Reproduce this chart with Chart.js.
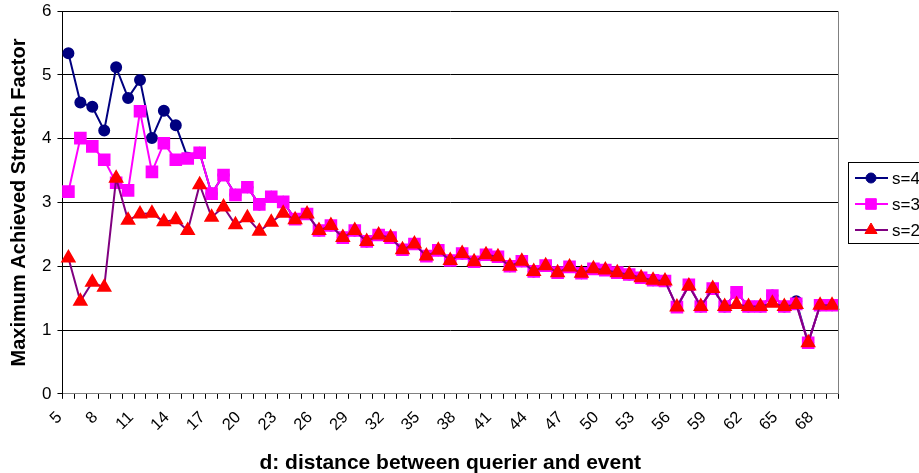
<!DOCTYPE html>
<html>
<head>
<meta charset="utf-8">
<script src="https://cdn.jsdelivr.net/npm/chart.js@4/dist/chart.umd.min.js"></script>
<style>
  body { margin: 0; background: #fff; overflow: hidden; }
  canvas { display: block; margin-top: -5px; }
</style>
</head>
<body>
<canvas id="stretchChart" width="919" height="478"></canvas>
<script>
// x categories: distance d
var distances = [5, 6, 7, 8, 9, 10, 11, 12, 13, 14, 15, 16, 17, 18, 19, 20, 21, 22, 23, 24,
  25, 26, 27, 28, 29, 30, 31, 32, 33, 34, 35, 36, 37, 38, 39, 40, 41, 42, 43, 44,
  45, 46, 47, 48, 49, 50, 51, 52, 53, 54, 55, 56, 57, 58, 59, 60, 61, 62, 63, 64,
  65, 66, 67, 68, 69];

var s4Values = [5.34, 4.57, 4.50, 4.13, 5.12, 4.64, 4.92, 4.01, 4.44, 4.21, 3.70, 3.78, 3.14, 3.43, 3.12, 3.24, 2.97, 3.09, 3.01, 2.74,
  2.82, 2.56, 2.64, 2.45, 2.56, 2.39, 2.49, 2.45, 2.26, 2.35, 2.16, 2.25, 2.09, 2.20, 2.07, 2.18, 2.15, 2.00, 2.08, 1.92,
  2.01, 1.90, 1.99, 1.89, 1.96, 1.94, 1.90, 1.87, 1.82, 1.78, 1.77, 1.36, 1.71, 1.37, 1.65, 1.37, 1.59, 1.37, 1.37, 1.54,
  1.37, 1.45, 0.80, 1.39, 1.39];

var s3Values = [3.17, 4.01, 3.88, 3.67, 3.31, 3.19, 4.43, 3.48, 3.93, 3.67, 3.69, 3.78, 3.14, 3.43, 3.12, 3.24, 2.97, 3.09, 3.01, 2.74,
  2.82, 2.56, 2.64, 2.45, 2.56, 2.39, 2.49, 2.45, 2.26, 2.35, 2.16, 2.25, 2.09, 2.20, 2.07, 2.18, 2.15, 2.00, 2.08, 1.92,
  2.01, 1.90, 1.99, 1.89, 1.96, 1.94, 1.90, 1.87, 1.82, 1.78, 1.77, 1.36, 1.71, 1.37, 1.65, 1.37, 1.59, 1.37, 1.37, 1.54,
  1.37, 1.41, 0.80, 1.39, 1.39];

var s2Values = [2.13, 1.45, 1.75, 1.67, 3.38, 2.72, 2.82, 2.83, 2.70, 2.73, 2.56, 3.28, 2.77, 2.93, 2.65, 2.76, 2.55, 2.69, 2.83, 2.73,
  2.82, 2.56, 2.64, 2.45, 2.56, 2.39, 2.49, 2.45, 2.26, 2.35, 2.16, 2.25, 2.09, 2.20, 2.07, 2.18, 2.15, 2.00, 2.08, 1.92,
  2.01, 1.90, 1.99, 1.89, 1.96, 1.94, 1.90, 1.87, 1.82, 1.78, 1.77, 1.36, 1.69, 1.37, 1.65, 1.37, 1.40, 1.37, 1.37, 1.42,
  1.37, 1.40, 0.80, 1.39, 1.39];

var seriesNames = ['s=4', 's=3', 's=2'];
var yTicks = [0, 1, 2, 3, 4, 5, 6];

var FONT = '"Liberation Sans", Arial, sans-serif';
var SHIFT = 5; // canvas is pulled up by this much

// legend box with line + marker, like the excel one
var boxLegend = {
  id: 'boxLegend',
  afterDraw: function(chart) {
    var ctx = chart.ctx;
    var area = chart.chartArea;
    ctx.save();
    // right frame of plot area
    ctx.strokeStyle = '#808080';
    ctx.lineWidth = 1;
    ctx.beginPath();
    ctx.moveTo(Math.round(area.right) + 0.5, area.top);
    ctx.lineTo(Math.round(area.right) + 0.5, area.bottom);
    ctx.stroke();

    var x0 = 848.5, y0 = 162.5 + SHIFT, w = 72, h = 81;
    ctx.strokeStyle = '#000';
    ctx.strokeRect(x0, y0, w, h);
    var rows = [178, 204, 230];
    chart.data.datasets.forEach(function(ds, i) {
      var y = rows[i] + SHIFT;
      ctx.strokeStyle = ds.borderColor;
      ctx.lineWidth = 2;
      ctx.beginPath();
      ctx.moveTo(855, y);
      ctx.lineTo(888, y);
      ctx.stroke();
      ctx.fillStyle = ds.pointBackgroundColor;
      ctx.strokeStyle = ds.pointBorderColor;
      ctx.lineWidth = 1;
      Chart.helpers.drawPoint(ctx, {
        pointStyle: ds.pointStyle,
        radius: ds.pointRadius,
        rotation: 0,
        borderWidth: 1
      }, 871, y);
      ctx.fillStyle = '#000';
      ctx.font = '17px ' + FONT;
      ctx.textBaseline = 'middle';
      ctx.textAlign = 'left';
      ctx.fillText(ds.label, 892, y + 1);
    });
    ctx.restore();
  }
};

var elem = document.getElementById('stretchChart');
var chart = new Chart(elem, {
  type: 'line',
  data: {
    labels: distances,
    datasets: [{
      label: seriesNames[0],
      data: s4Values,
      borderColor: '#000080',
      backgroundColor: '#000080',
      pointBackgroundColor: '#000080',
      pointBorderColor: '#000080',
      pointStyle: 'circle',
      pointRadius: 5,
      borderWidth: 2,
      order: 3
    }, {
      label: seriesNames[1],
      data: s3Values,
      borderColor: '#FF00FF',
      backgroundColor: '#FF00FF',
      pointBackgroundColor: '#FF00FF',
      pointBorderColor: '#FF00FF',
      pointStyle: 'rect',
      pointRadius: 7.5,
      borderWidth: 2,
      order: 2
    }, {
      label: seriesNames[2],
      data: s2Values,
      borderColor: '#800080',
      backgroundColor: '#FF0000',
      pointBackgroundColor: '#FF0000',
      pointBorderColor: '#FF0000',
      pointStyle: 'triangle',
      pointRadius: 7,
      borderWidth: 2,
      order: 1
    }]
  },
  options: {
    responsive: false,
    animation: false,
    layout: { padding: { left: 7, right: 81, top: 0, bottom: -3 } },
    elements: { line: { tension: 0 } },
    plugins: {
      legend: { display: false },
      tooltip: { enabled: false }
    },
    scales: {
      x: {
        offset: true,
        grid: {
          offset: true,
          drawOnChartArea: false,
          drawTicks: true,
          tickLength: 5,
          color: '#000'
        },
        border: { color: '#808080', width: 1 },
        ticks: {
          autoSkip: false,
          maxRotation: 45,
          minRotation: 45,
          color: '#000',
          font: { family: FONT, size: 16.5 },
          padding: 9,
          labelOffset: -9,
          callback: function(val, idx) {
            return idx % 3 === 0 ? distances[idx] : '';
          }
        },
        title: {
          display: true,
          text: 'd: distance between querier and event',
          color: '#000',
          font: { family: FONT, size: 21, weight: 'bold' },
          padding: { top: 7, bottom: 0 }
        }
      },
      y: {
        min: yTicks[0],
        max: yTicks[yTicks.length - 1],
        grid: { color: '#000', lineWidth: 1, tickLength: 5 },
        border: { color: '#000', width: 1 },
        ticks: {
          stepSize: 1,
          color: '#000',
          font: { family: FONT, size: 17 },
          padding: 6
        },
        title: {
          display: true,
          text: 'Maximum Achieved Stretch Factor',
          color: '#000',
          font: { family: FONT, size: 20, weight: 'bold' },
          padding: { top: 0, bottom: 5 }
        }
      }
    }
  },
  plugins: [boxLegend]
});
</script>
</body>
</html>
